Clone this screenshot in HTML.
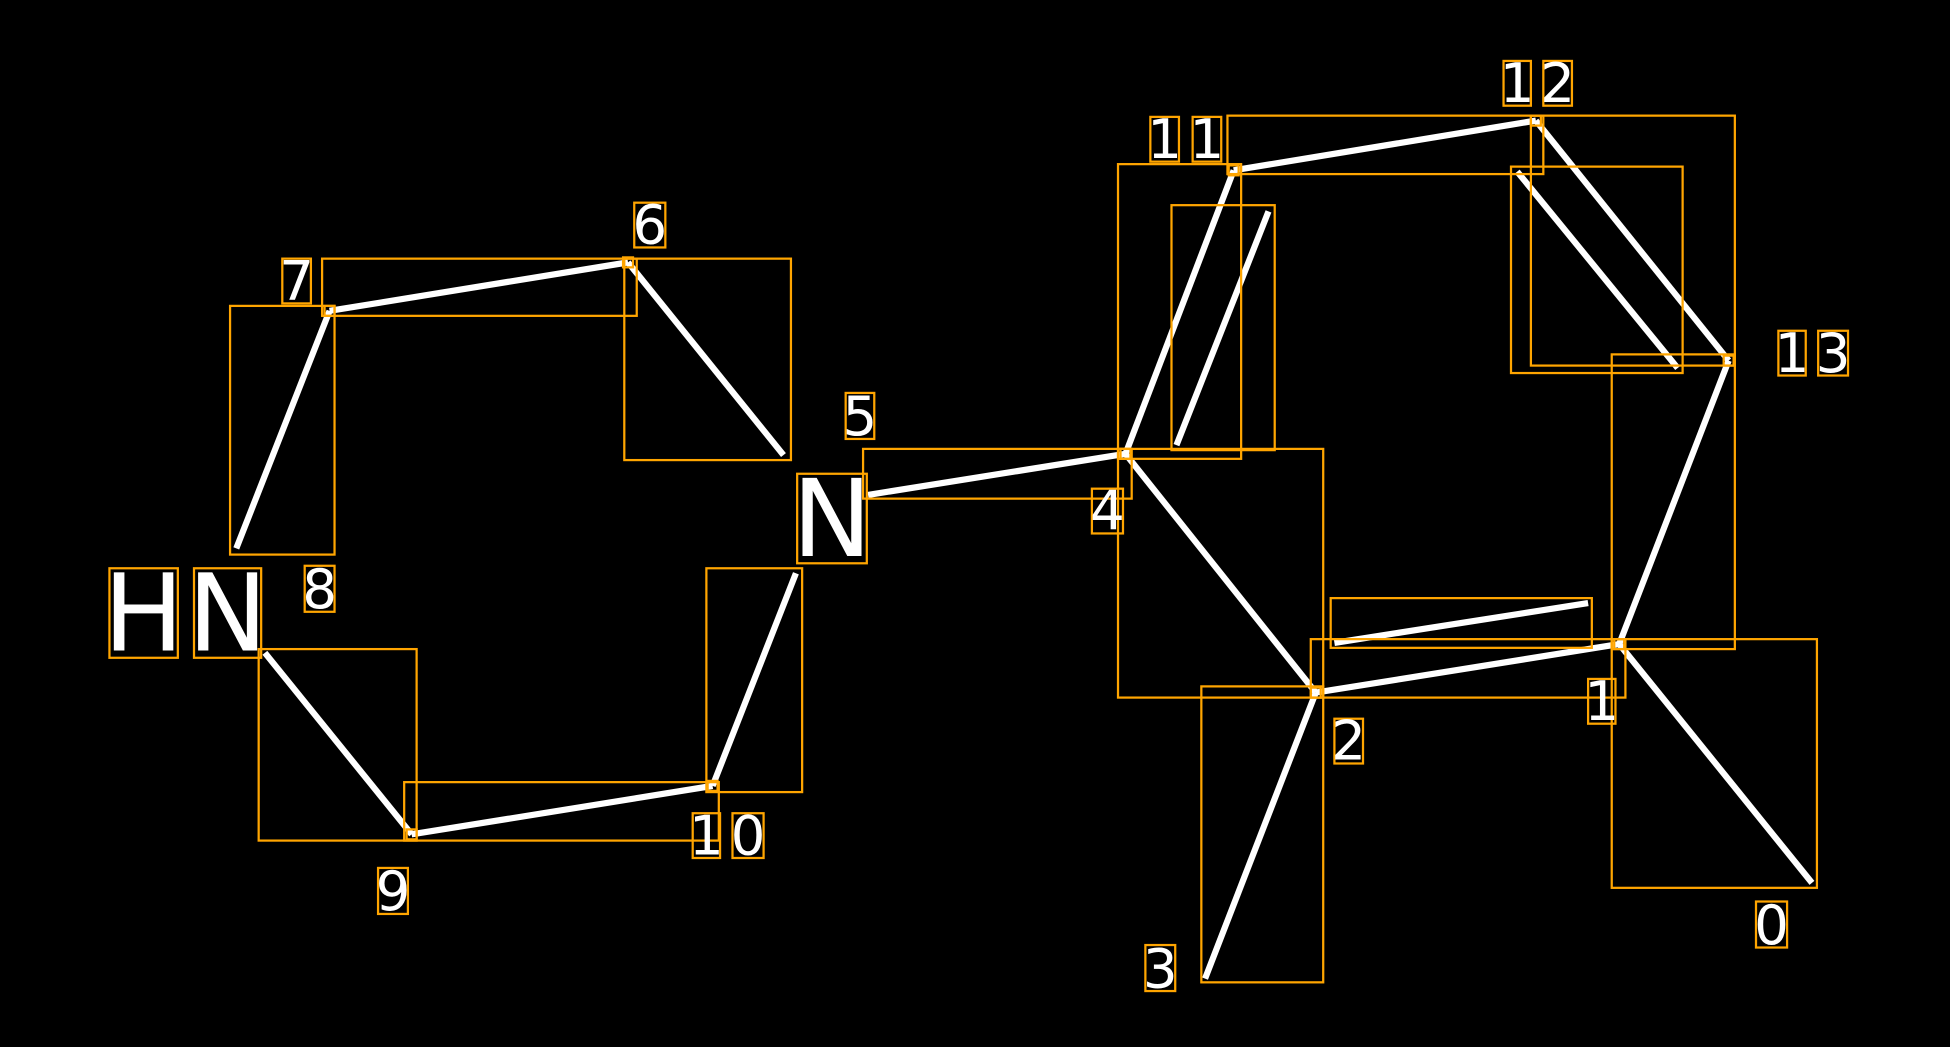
<!DOCTYPE html>
<html><head><style>html,body{margin:0;padding:0;background:#000}svg{display:block}</style></head>
<body>
<svg width="1950" height="1047" viewBox="0 0 1568 842" preserveAspectRatio="none" xmlns="http://www.w3.org/2000/svg">
<rect width="1568" height="842" fill="#000"/>
<g stroke="#fff" stroke-width="5" fill="none">
<line x1="265" y1="250" x2="190" y2="441"/>
<line x1="265" y1="250" x2="505" y2="211"/>
<line x1="505" y1="211" x2="630" y2="366"/>
<line x1="640" y1="461" x2="573" y2="632"/>
<line x1="573" y1="632" x2="331" y2="671"/>
<line x1="331" y1="671" x2="213" y2="525"/>
<line x1="698" y1="398" x2="905" y2="365"/>
<line x1="905" y1="365" x2="992" y2="137"/>
<line x1="946" y1="358" x2="1020" y2="170"/>
<line x1="992" y1="137" x2="1235" y2="97"/>
<line x1="1235" y1="97" x2="1390" y2="290"/>
<line x1="1220" y1="138" x2="1349" y2="296"/>
<line x1="1390" y1="290" x2="1302" y2="518"/>
<line x1="1302" y1="518" x2="1058" y2="557"/>
<line x1="1073" y1="517" x2="1277" y2="485"/>
<line x1="1058" y1="557" x2="905" y2="365"/>
<line x1="1058" y1="557" x2="969" y2="787"/>
<line x1="1302" y1="518" x2="1457" y2="710"/>
</g>
<g stroke="#ffa500" stroke-width="1.8" fill="none">
<rect x="185" y="246" width="84" height="200"/>
<rect x="259" y="208" width="253" height="46"/>
<rect x="502" y="208" width="134" height="162"/>
<rect x="568" y="457" width="77" height="180"/>
<rect x="325" y="629" width="253" height="47"/>
<rect x="208" y="522" width="127" height="154"/>
<rect x="694" y="361" width="216" height="40"/>
<rect x="899" y="132" width="99" height="237"/>
<rect x="942" y="165" width="83" height="197"/>
<rect x="987" y="93" width="254" height="47"/>
<rect x="1231" y="93" width="164" height="201"/>
<rect x="1215" y="134" width="138" height="166"/>
<rect x="1296" y="285" width="99" height="237"/>
<rect x="1070" y="481" width="210" height="40"/>
<rect x="1054" y="514" width="253" height="47"/>
<rect x="899" y="361" width="165" height="200"/>
<rect x="966" y="552" width="98" height="238"/>
<rect x="1296" y="514" width="165" height="200"/>
<rect x="261" y="246" width="8" height="8"/>
<rect x="501" y="207" width="8" height="8"/>
<rect x="569" y="628" width="8" height="8"/>
<rect x="327" y="667" width="8" height="8"/>
<rect x="901" y="361" width="8" height="8"/>
<rect x="988" y="133" width="8" height="8"/>
<rect x="1231" y="93" width="8" height="8"/>
<rect x="1386" y="286" width="8" height="8"/>
<rect x="1298" y="514" width="8" height="8"/>
<rect x="1054" y="553" width="8" height="8"/>
<!-- label boxes -->
<rect x="227" y="208" width="23" height="36"/>
<rect x="510" y="163" width="25" height="36"/>
<rect x="680" y="316" width="23" height="37"/>
<rect x="641" y="381" width="56" height="72"/>
<rect x="88" y="457" width="55" height="72"/>
<rect x="156" y="457" width="54" height="72"/>
<rect x="245" y="455" width="24" height="37"/>
<rect x="304" y="698" width="24" height="37"/>
<rect x="557" y="654" width="22" height="36"/>
<rect x="589" y="654" width="25" height="36"/>
<rect x="878" y="393" width="25" height="36"/>
<rect x="925" y="94" width="23" height="36"/>
<rect x="959" y="94" width="23" height="36"/>
<rect x="1209" y="49" width="22" height="36"/>
<rect x="1241" y="49" width="23" height="36"/>
<rect x="1430" y="266" width="22" height="36"/>
<rect x="1462" y="266" width="24" height="36"/>
<rect x="1277" y="546" width="22" height="36"/>
<rect x="1073" y="578" width="23" height="36"/>
<rect x="921" y="760" width="24" height="37"/>
<rect x="1412" y="725" width="25" height="37"/>
</g>
<g fill="#fff" font-family="DejaVu Sans, Liberation Sans, sans-serif" font-size="44" text-anchor="middle">
<text x="238.5" y="241">7</text>
<text x="522.5" y="196">6</text>
<text x="691.5" y="350">5</text>
<text x="257" y="489">8</text>
<text x="316" y="732">9</text>
<text x="568" y="687">1</text>
<text x="601.5" y="687">0</text>
<text x="890.5" y="426">4</text>
<text x="936.5" y="127">1</text>
<text x="970.5" y="127">1</text>
<text x="1220" y="82">1</text>
<text x="1252.5" y="82">2</text>
<text x="1441" y="299">1</text>
<text x="1474" y="299">3</text>
<text x="1288" y="579">1</text>
<text x="1084.5" y="611">2</text>
<text x="933" y="794">3</text>
<text x="1424.5" y="759">0</text>
<text x="669" y="447" font-size="86">N</text>
<text x="115.5" y="523" font-size="86">H</text>
<text x="183" y="523" font-size="86">N</text>
</g>
</svg>
</body></html>
